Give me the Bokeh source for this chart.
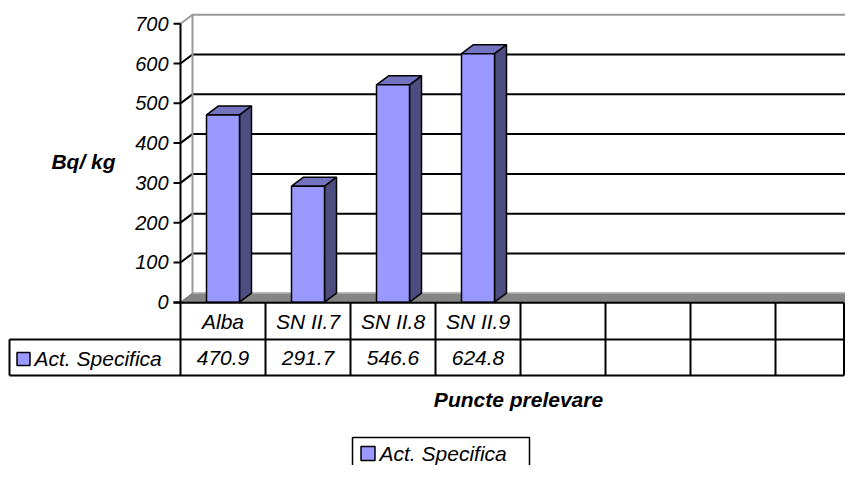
from bokeh.plotting import figure
from bokeh.models import Range1d
from bokeh.core.properties import value
from bokeh.embed import file_html
from bokeh.resources import INLINE

# ---------------- data ----------------
categories = ["Alba", "SN II.7", "SN II.8", "SN II.9"]
act_specifica = [470.9, 291.7, 546.6, 624.8]
y_ticks = [0, 100, 200, 300, 400, 500, 600, 700]
series_name = "Act. Specifica"
y_title = "Bq/ kg"
x_title = "Puncte prelevare"
n_table_cols = 8

# ---------------- layout (picture pixels) ----------------
W, H = 845, 465
OFF = 0
X0 = 180.0          # front value axis
COLW = 85.0         # one category column
Y0 = 301.7          # value 0
PPU = (301.7 - 23.3) / 700.0   # pixels per value unit
DXP, DYP = 12.0, 9.0           # 3-D depth offset in px

def ux(pw):
    return (pw - X0) / COLW

def uy(pw):
    return (Y0 - pw) / PPU

DX = DXP / COLW
DY = DYP / PPU
XR = ux(OFF + W + 2)
FONT = value("Liberation Sans")
FS = "21px"
FS_TICK = "20px"

p = figure(width=W, height=H,
           x_range=Range1d(ux(OFF), ux(OFF + W)),
           y_range=Range1d(uy(OFF + H), uy(OFF)),
           output_backend="svg", toolbar_location=None,
           x_axis_location=None, y_axis_location=None, min_border=0)
p.grid.visible = False
p.outline_line_color = None
p.background_fill_color = "white"
p.border_fill_color = "white"

# ---------------- walls and gridlines ----------------
inner = [v for v in y_ticks if v not in (y_ticks[0], y_ticks[-1])]
p.multi_line(xs=[[0, DX, XR] for v in inner],
             ys=[[v, v + DY, v + DY] for v in inner],
             line_color="black", line_width=2)
top = y_ticks[-1]
p.line(x=[0, DX, XR], y=[top, top + DY, top + DY], line_color="#999999", line_width=2)
p.line(x=[DX, DX], y=[DY, top + DY], line_color="#999999", line_width=2)

# floor
p.patch(x=[0, DX, XR, XR], y=[0, DY, DY, 0], fill_color="#858585",
        line_color="#6a6a6a", line_width=1)
p.line(x=[DX, XR], y=[DY, DY], line_color="#a8a8a8", line_width=1.5)

# ---------------- bars ----------------
hw = 16.5 / COLW
xc = [i + 0.5 for i in range(len(categories))]
lefts = [c - hw for c in xc]
rights = [c + hw for c in xc]
p.patches(xs=[[r, r + DX, r + DX, r] for r in rights],
          ys=[[0, DY, v + DY, v] for v in act_specifica],
          fill_color="#4d4d80", line_color="black", line_width=1.5)
p.patches(xs=[[l, l + DX, r + DX, r] for l, r in zip(lefts, rights)],
          ys=[[v, v + DY, v + DY, v] for v in act_specifica],
          fill_color="#7373bf", line_color="black", line_width=1.5)
p.quad(left=lefts, right=rights, bottom=[0] * len(act_specifica), top=act_specifica,
       fill_color="#9999ff", line_color="black", line_width=1.5)

# ---------------- value axis ----------------
p.line(x=[0, 0], y=[0, top], line_color="black", line_width=2)
p.multi_line(xs=[[ux(173), 0] for v in y_ticks], ys=[[v, v] for v in y_ticks],
             line_color="black", line_width=2)
p.text(x=[ux(168)] * len(y_ticks), y=y_ticks, text=[str(v) for v in y_ticks],
       text_align="right", text_baseline="middle", text_font=FONT,
       text_font_size=FS_TICK, text_font_style="italic", text_color="black")

# ---------------- data table ----------------
tab_right = min(n_table_cols, ux(OFF + W - 1.5))
p.line(x=[ux(173), tab_right], y=[uy(302.3), uy(302.3)], line_color="black", line_width=2)
p.multi_line(xs=[[ux(9), tab_right], [ux(9), tab_right]],
             ys=[[uy(339), uy(339)], [uy(375), uy(375)]],
             line_color="black", line_width=2)
vx = [min(k, tab_right) for k in range(n_table_cols + 1)]
p.multi_line(xs=[[x, x] for x in vx], ys=[[uy(302.3), uy(375)] for x in vx],
             line_color="black", line_width=2)
p.line(x=[ux(9), ux(9)], y=[uy(339), uy(375)], line_color="black", line_width=2)

p.text(x=xc, y=[uy(320.5)] * len(categories), text=categories,
       text_align="center", text_baseline="middle", text_font=FONT,
       text_font_size=FS, text_font_style="italic", text_color="black")
p.text(x=xc, y=[uy(357)] * len(act_specifica),
       text=[f"{v:.1f}" for v in act_specifica],
       text_align="center", text_baseline="middle", text_font=FONT,
       text_font_size=FS, text_font_style="italic", text_color="black")
p.rect(x=[ux(23)], y=[uy(358.5)], width=13, height=13, width_units="screen",
       height_units="screen", fill_color="#9999ff", line_color="black", line_width=1.5)
p.text(x=[ux(34)], y=[uy(357.5)], text=[series_name], text_align="left",
       text_baseline="middle", text_font=FONT, text_font_size=FS,
       text_font_style="italic", text_color="black")

# ---------------- titles ----------------
p.text(x=[ux(83)], y=[uy(161)], text=[y_title], text_align="center",
       text_baseline="middle", text_font=FONT, text_font_size=FS,
       text_font_style="bold italic", text_color="black")
p.text(x=[ux(518)], y=[uy(399)], text=[x_title], text_align="center",
       text_baseline="middle", text_font=FONT, text_font_size=FS,
       text_font_style="bold italic", text_color="black")

# ---------------- legend ----------------
p.quad(left=[ux(352)], right=[ux(529)], top=[uy(437)], bottom=[uy(490)],
       fill_color="white", line_color="black", line_width=1.5)
p.rect(x=[ux(367.5)], y=[uy(453)], width=14, height=14, width_units="screen",
       height_units="screen", fill_color="#9999ff", line_color="black", line_width=1.5)
p.text(x=[ux(379)], y=[uy(452.5)], text=[series_name], text_align="left",
       text_baseline="middle", text_font=FONT, text_font_size=FS,
       text_font_style="italic", text_color="black")

open("out.html", "w").write(file_html(p, INLINE))
